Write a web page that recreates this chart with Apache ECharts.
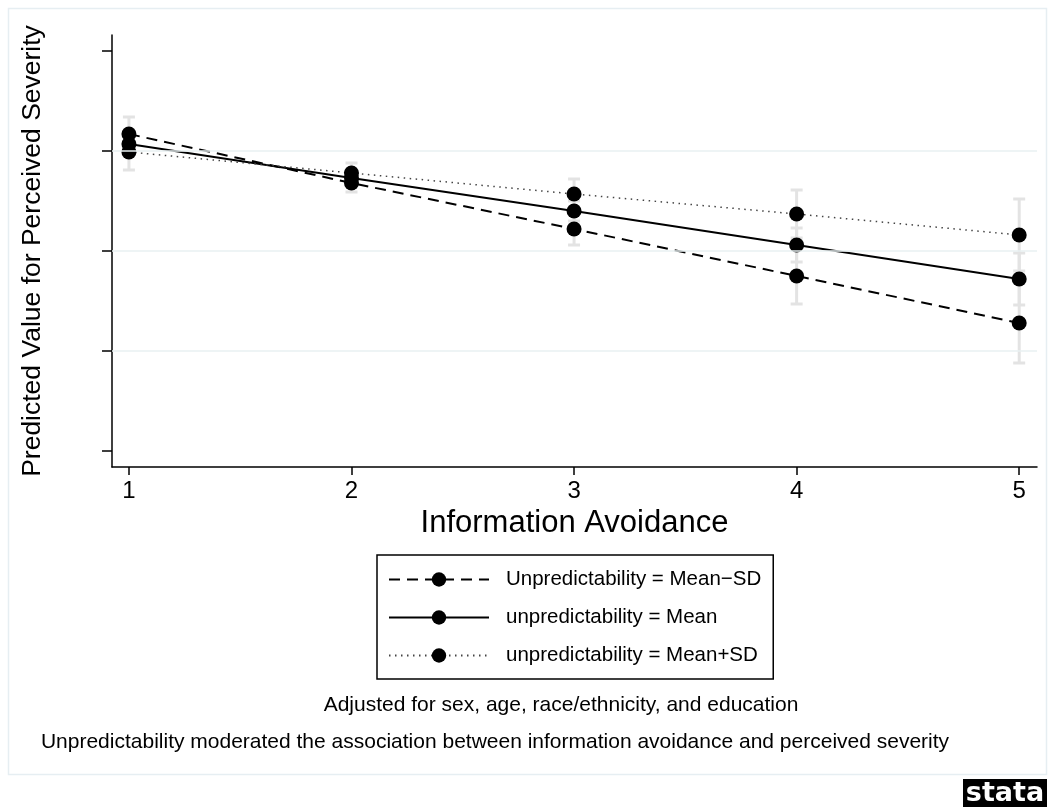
<!DOCTYPE html>
<html>
<head>
<meta charset="utf-8">
<script src="https://cdn.jsdelivr.net/npm/echarts@6/dist/echarts.min.js"></script>
<style>html,body{margin:0;padding:0;background:#fff}#c{width:1055px;height:810px}</style>
</head>
<body>
<div id="c"></div>
<script>
var xValues = [1, 2, 3, 4, 5];
var xTicks = [1, 2, 3, 4, 5];
var yTicks = [1, 2, 3, 4, 5];
var yGrid = [2, 3, 4];
var seriesNames = ['Unpredictability = Mean\u2212SD', 'unpredictability = Mean', 'unpredictability = Mean+SD'];
var meanMinusSD = [4.17, 3.68, 3.22, 2.75, 2.28];
var meanVal     = [4.07, 3.73, 3.40, 3.06, 2.72];
var meanPlusSD  = [3.99, 3.78, 3.57, 3.37, 3.16];
var ciMinusSD = [0.17, 0.09, 0.16, 0.28, 0.40];
var ciMean    = [0.12, 0.07, 0.10, 0.17, 0.26];
var ciPlusSD  = [0.18, 0.10, 0.15, 0.24, 0.36];
var footnote1 = 'Adjusted for sex, age, race/ethnicity, and education';
var footnote2 = 'Unpredictability moderated the association between information avoidance and perceived severity';

var FONT = 'Liberation Sans, Arial, sans-serif';
var values = [meanMinusSD, meanVal, meanPlusSD];
var cis = [ciMinusSD, ciMean, ciPlusSD];
var lineTypes = [[11, 7], 'solid', [1.5, 4.5]];
var lineColors = ['#000', '#000', '#444'];
var lineWidths = [2, 2, 1.5];

function errRender(params, api) {
  var x = api.value(0);
  var lo = api.coord([x, api.value(1)]);
  var hi = api.coord([x, api.value(2)]);
  var st = {stroke: '#e3e3e3', lineWidth: 3};
  var cw = 6;
  return {type: 'group', children: [
    {type: 'line', shape: {x1: lo[0], y1: lo[1], x2: hi[0], y2: hi[1]}, style: st},
    {type: 'line', shape: {x1: lo[0] - cw, y1: lo[1], x2: lo[0] + cw, y2: lo[1]}, style: st},
    {type: 'line', shape: {x1: hi[0] - cw, y1: hi[1], x2: hi[0] + cw, y2: hi[1]}, style: st}
  ]};
}

var series = [];
values.forEach(function (v, i) {
  series.push({
    type: 'custom', name: 'ci' + i, renderItem: errRender, z: 1, silent: true,
    data: xValues.map(function (x, k) { return [x, v[k] - cis[i][k], v[k] + cis[i][k]]; }),
    markLine: i === 0 ? {
      silent: true, symbol: 'none', label: {show: false},
      lineStyle: {color: '#e8f0f2', width: 1.5, type: 'solid'},
      data: yGrid.map(function (g) { return {yAxis: g}; })
    } : undefined
  });
});
values.forEach(function (v, i) {
  series.push({
    type: 'line', name: seriesNames[i], z: 3,
    data: xValues.map(function (x, k) { return [x, v[k]]; }),
    symbol: 'circle', symbolSize: 15,
    itemStyle: {color: '#000'},
    lineStyle: {color: lineColors[i], width: lineWidths[i], type: lineTypes[i]},
    emphasis: {disabled: true}
  });
});

var chart = echarts.init(document.getElementById('c'), null, {renderer: 'canvas'});
chart.setOption({
  animation: false,
  backgroundColor: '#fff',
  grid: {left: 112, right: 18, top: 35, bottom: 343, containLabel: false},
  xAxis: {
    type: 'value', min: 0.924, max: 5.08,
    name: 'Information Avoidance', nameLocation: 'middle', nameGap: 38,
    nameTextStyle: {fontFamily: FONT, fontSize: 31, color: '#000'},
    axisLine: {show: true, onZero: false, lineStyle: {color: '#000', width: 1.5}},
    axisTick: {show: true, length: 8, lineStyle: {color: '#000', width: 1.5}, customValues: xTicks},
    axisLabel: {fontFamily: FONT, fontSize: 24, color: '#000', margin: 12, customValues: xTicks},
    splitLine: {show: false}
  },
  yAxis: {
    type: 'value', min: 0.84, max: 5.16,
    name: 'Predicted Value for Perceived Severity', nameLocation: 'middle', nameGap: 66,
    nameTextStyle: {fontFamily: FONT, fontSize: 26.5, color: '#000'},
    axisLine: {show: true, onZero: false, lineStyle: {color: '#000', width: 1.5}},
    axisTick: {show: true, length: 10, lineStyle: {color: '#000', width: 1.5}, customValues: yTicks},
    axisLabel: {show: false},
    splitLine: {show: false}
  },
  legend: {
    data: seriesNames, orient: 'vertical', left: 377, top: 555,
    itemWidth: 100, itemHeight: 18, itemGap: 17,
    padding: [14, 12, 13, 11],
    borderColor: '#000', borderWidth: 1.5,
    selectedMode: false,
    textStyle: {fontFamily: FONT, fontSize: 20.5, color: '#000', padding: [0, 0, 0, 12]}
  },
  graphic: [
    {type: 'rect', silent: true, shape: {x: 8.5, y: 8.5, width: 1038, height: 766}, style: {fill: 'none', stroke: '#e6eef2', lineWidth: 1.5}},
    {type: 'text', silent: true, x: 561, y: 705, style: {text: footnote1, fontFamily: FONT, fontSize: 21, fill: '#000', align: 'center', verticalAlign: 'middle'}},
    {type: 'text', silent: true, x: 495, y: 742, style: {text: footnote2, fontFamily: FONT, fontSize: 21, fill: '#000', align: 'center', verticalAlign: 'middle'}},
    {type: 'rect', silent: true, shape: {x: 963, y: 779, width: 84, height: 28}, style: {fill: '#000'}},
    {type: 'text', silent: true, x: 1005, y: 794, style: {text: 'stata', fontFamily: 'DejaVu Sans', fontWeight: 'bold', fontSize: 27, fill: '#fff', align: 'center', verticalAlign: 'middle'}}
  ],
  series: series
});
</script>
</body>
</html>
